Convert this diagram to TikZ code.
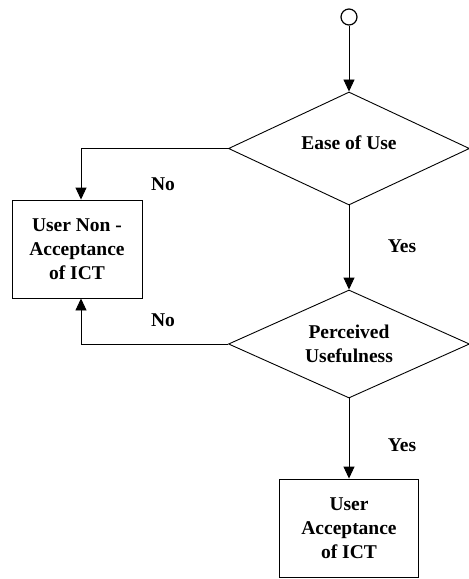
\documentclass[tikz,border=0pt]{standalone}
\usepackage{fontspec}
\setmainfont{Liberation Serif}
\usetikzlibrary{shapes.geometric,arrows.meta}
\begin{document}
\begin{tikzpicture}[x=1pt,y=-1pt,line width=0.9pt,
    decision/.style={draw,diamond,aspect=2.2,inner sep=0pt,minimum width=241pt,align=center},
    outcome/.style={draw,rectangle,minimum width=130pt,minimum height=98pt,inner sep=0pt,align=center},
    flow/.style={-{Triangle[width=11pt,length=12pt]}},
    every node/.style={font=\fontsize{19.5}{24}\selectfont\bfseries}]

\useasboundingbox (0,0) rectangle (469,579);
% \draw[step=10pt,gray,very thin] (0,0) grid (469,579);

        \node (start_circle) [draw,circle,minimum size=16pt,inner sep=0pt,line width=1.2pt] at (349,17) {};
        \node (ease_dec) [decision,minimum height=113pt] at (349,148.5) {\raisebox{11pt}{Ease of Use}};
        \node (useful_dec) [decision,minimum height=108pt] at (349,344) {Perceived\\Usefulness};
        \node (reject_box) [outcome] at (77,249) {User Non -\\Acceptance\\of ICT};
        \node (accept_box) [outcome,minimum width=139pt] at (349,528) {User\\Acceptance\\of ICT};

        \node (no_label_top) at (163,184) {No};
        \node (no_label_bottom) at (163,320) {No};
        \node (yes_label_top) at (402,246) {Yes};
        \node (yes_label_bottom) at (402,445) {Yes};

        \draw [flow] (start_circle) -- (ease_dec);
        \draw [flow] (ease_dec) -- (useful_dec);
        \draw [flow] (useful_dec) -- (accept_box);
        \draw [flow] (ease_dec.west) -| ([xshift=4pt]reject_box.north);
        \draw [flow] (useful_dec.west) -| ([xshift=4pt]reject_box.south);

    \end{tikzpicture}
\end{document}
